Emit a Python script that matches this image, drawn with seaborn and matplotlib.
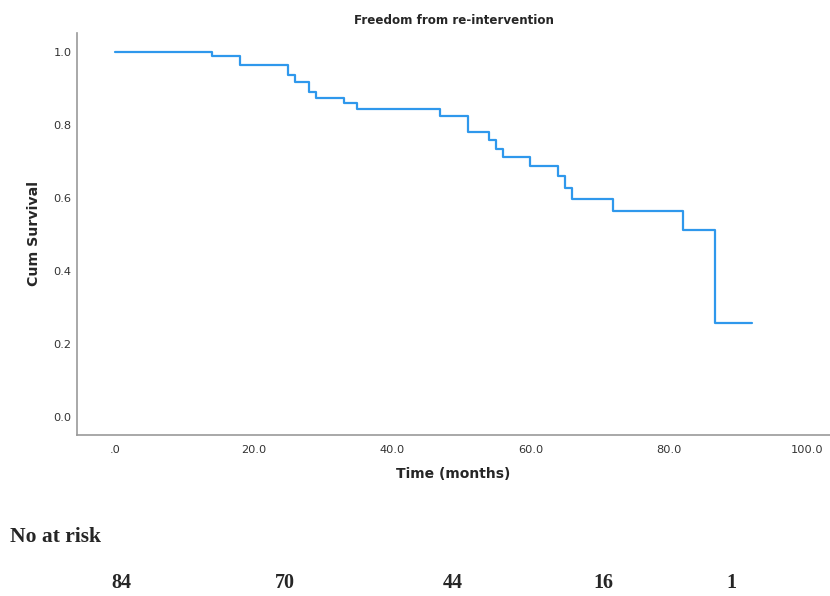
import matplotlib
matplotlib.use("Agg")
import matplotlib.pyplot as plt
import seaborn as sns
import pandas as pd

sns.set_theme(style="white")
plt.rcParams['font.family'] = ['DejaVu Sans']

# Kaplan-Meier steps
tempi = [0, 14, 18, 25, 26, 28, 29, 33, 35, 47, 51, 54, 55, 56, 60, 64, 65, 66, 72, 82, 86.7, 92]
sopravvivenza = [1.0, 0.988, 0.963, 0.935, 0.918, 0.890, 0.872, 0.860, 0.843, 0.824, 0.781,
                 0.758, 0.735, 0.712, 0.687, 0.660, 0.628, 0.598, 0.563, 0.512, 0.256, 0.256]

x_ticks = [0, 20, 40, 60, 80, 100]
x_labels = [".0", "20.0", "40.0", "60.0", "80.0", "100.0"]
y_ticks = [0.0, 0.2, 0.4, 0.6, 0.8, 1.0]
y_labels = ["0.0", "0.2", "0.4", "0.6", "0.8", "1.0"]

a_rischio = ["84", "70", "44", "16", "1"]
a_rischio_x = [0.146, 0.343, 0.545, 0.727, 0.881]

df = pd.DataFrame({"tempo": tempi, "surv": sopravvivenza})

fig = plt.figure(figsize=(8.3, 5.96), dpi=100)
ax = fig.add_axes([0.093, 0.270, 0.907, 0.675])

sns.lineplot(data=df, x="tempo", y="surv", drawstyle="steps-post",
             color="#2f98ec", linewidth=1.6, ax=ax)

ax.set_xlim(-5.5, 103.3)
ax.set_ylim(-0.05, 1.052)
ax.set_xticks(x_ticks)
ax.set_xticklabels(x_labels)
ax.set_yticks(y_ticks)
ax.set_yticklabels(y_labels)
ax.tick_params(axis="both", labelsize=8.2, labelcolor="#333333", length=0)
ax.tick_params(axis="x", pad=7)
ax.tick_params(axis="y", pad=4)

for s in ["top", "right"]:
    ax.spines[s].set_visible(False)
for s in ["left", "bottom"]:
    ax.spines[s].set_color("#999999")
    ax.spines[s].set_linewidth(1.2)

ax.set_title("Freedom from re-intervention", fontsize=8.6, fontweight="bold", pad=6)
ax.set_xlabel("Time (months)", fontsize=10, fontweight="bold", labelpad=9)
ax.set_ylabel("Cum Survival", fontsize=10.2, fontweight="bold", labelpad=9)

# tabella "numero a rischio"
fig.text(0.012, 1 - 537 / 596, "No at risk", fontsize=15.5, fontweight="bold",
         family=["Liberation Serif"], va="center", ha="left")
for xx, n in zip(a_rischio_x, a_rischio):
    fig.text(xx, 1 - 583 / 596, n, fontsize=14.5, fontweight="bold", family=["Liberation Serif"],
             va="center", ha="center")

plt.savefig("out.png", dpi=100)
plt.close()
